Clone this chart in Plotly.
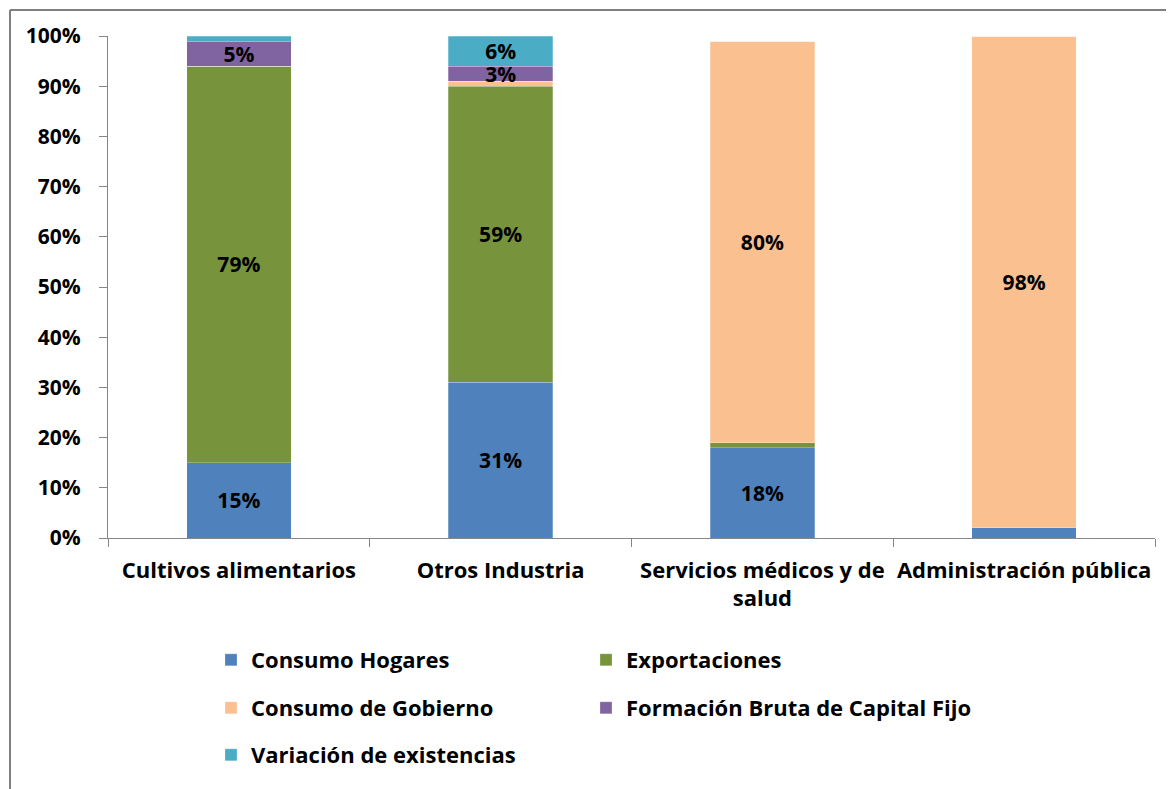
import plotly.graph_objects as go

categories = ["Cultivos alimentarios", "Otros Industria", "Servicios médicos y de<br>salud", "Administración pública"]
series_names = ["Consumo Hogares", "Exportaciones", "Consumo de Gobierno",
                "Formación Bruta de Capital Fijo", "Variación de existencias"]
consumo_hogares = [15, 31, 18, 2]
exportaciones = [79, 59, 1, 0]
consumo_gobierno = [0, 1, 80, 98]
fbkf = [5, 3, 0, 0]
variacion_existencias = [1, 6, 0, 0]
colors = ["#4F81BD", "#77933C", "#FAC090", "#8064A2", "#4BACC6"]
y_ticks = [0, 10, 20, 30, 40, 50, 60, 70, 80, 90, 100]
y_tick_labels = ["0%", "10%", "20%", "30%", "40%", "50%", "60%", "70%", "80%", "90%", "100%"]

series_values = [consumo_hogares, exportaciones, consumo_gobierno, fbkf, variacion_existencias]
legend_ids = ["legend", "legend2", "legend3", "legend4", "legend5"]

FONT = "Open Sans"
fig = go.Figure()
for name, vals, col, lg in zip(series_names, series_values, colors, legend_ids):
    fig.add_trace(go.Bar(
        x=categories, y=vals, name=name, legend=lg,
        marker=dict(color=col, line=dict(color="rgba(255,255,255,0.5)", width=0.5)),
        text=[f"{v}%" if v >= 3 else "" for v in vals],
        textposition="inside", insidetextanchor="middle", constraintext="none",
        textfont=dict(family=FONT, size=21, color="black", weight="bold"),
        textangle=0,
    ))

OFF = 8  # page body margin
W, H = 1174 - OFF, 789 - OFF
L, R, T, B = 108 - OFF, 1155 - OFF, 36 - OFF, 538 - OFF
def px_x(p):
    return (p - OFF - L) / (R - L)
def px_y(p):
    return (B - (p - OFF)) / (B - T)

def legend_at(sx, sy):
    return dict(orientation="h", font=dict(family=FONT, size=22, color="black", weight="bold"),
                xanchor="left", yanchor="middle", bgcolor="rgba(0,0,0,0)",
                x=px_x(sx), y=px_y(sy))

frame_line = dict(color="#7F7F7F", width=2)
frame = [
    dict(type="line", xref="paper", yref="paper", x0=px_x(10), x1=px_x(1200),
         y0=px_y(10), y1=px_y(10), line=frame_line, layer="above"),
    dict(type="line", xref="paper", yref="paper", x0=px_x(10), x1=px_x(10),
         y0=px_y(10), y1=px_y(810), line=frame_line, layer="above"),
]

fig.update_layout(
    width=W, height=H,
    margin=dict(l=L, r=W - R, t=T, b=H - B, autoexpand=False),
    barmode="stack", bargap=0.6,
    plot_bgcolor="white", paper_bgcolor="white",
    font=dict(family=FONT, size=22, color="black", weight="bold"),
    showlegend=True,
    legend=legend_at(211, 660),
    legend2=legend_at(586, 660),
    legend3=legend_at(211, 708),
    legend4=legend_at(586, 708),
    legend5=legend_at(211, 755),
    uniformtext=dict(minsize=21, mode="show"),
    shapes=frame,
)
fig.update_xaxes(showline=True, linecolor="#868686", linewidth=1.3, ticks="outside",
                 tickson="boundaries", ticklen=8, tickcolor="#868686", ticklabelstandoff=12,
                 tickangle=0, automargin=False,
                 tickfont=dict(family=FONT, size=22, color="black", weight="bold"), showgrid=False)
fig.update_yaxes(range=[0, 100], tickvals=y_ticks, ticktext=y_tick_labels, showline=True,
                 linecolor="#868686", linewidth=1.3, ticks="outside", ticklen=8, automargin=False,
                 tickcolor="#868686", showgrid=False, zeroline=False, ticklabelstandoff=14,
                 tickfont=dict(family=FONT, size=21, color="black", weight="bold"))

fig.write_html("out.html")
